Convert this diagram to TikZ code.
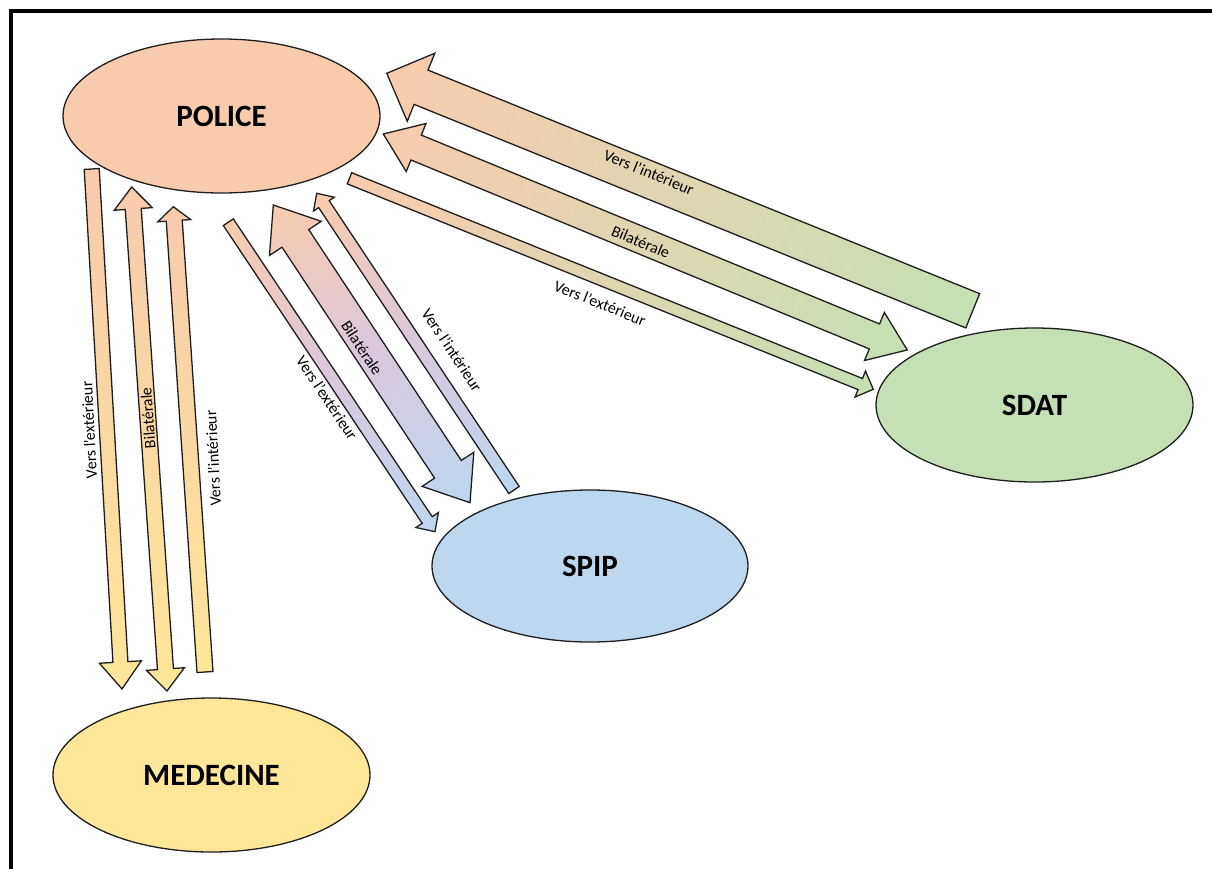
\documentclass[tikz,border=0pt]{standalone}
\usepackage{fontspec}
\setmainfont{Carlito}
\usetikzlibrary{shapes.geometric,calc}
\definecolor{peach}{RGB}{248,203,173}
\definecolor{sgreen}{RGB}{197,224,180}
\definecolor{sblue}{RGB}{189,215,238}
\definecolor{syellow}{RGB}{255,230,153}
\definecolor{slav}{RGB}{218,200,222}
\definecolor{edge}{RGB}{30,30,30}
\tikzset{
  ell/.style={ellipse, draw=edge, line width=1.3pt, minimum width=317pt, minimum height=154pt, inner sep=0pt, font=\fontsize{31}{36}\selectfont\bfseries},
  lbl/.style={font=\fontsize{16}{19}\selectfont, inner sep=0pt, text=black},
  arrowline/.style={draw=edge, line width=1.3pt, line join=miter},
}
% #1 type (s single / d double), #2 from, #3 to (tip), #4 shaft half width, #5 head half width, #6 head length, #7 shading options
\newcommand{\blockarrow}[7]{%
  \path let \p1=(#2), \p2=(#3) in
    \pgfextra{%
      \pgfmathsetmacro{\tmpang}{atan2((\y2)-(\y1),(\x2)-(\x1))}%
      \pgfmathsetmacro{\tmplen}{veclen((\x2)-(\x1),(\y2)-(\y1))}%
      \xdef\BAang{\tmpang}\xdef\BAlen{\tmplen}%
      \xdef\BAx{\x1}\xdef\BAy{\y1}%
    };
  \pgfmathsetmacro{\BAb}{\BAlen-#6}%
  \begin{scope}[transform canvas={shift={(\BAx,\BAy)},rotate=\BAang}, x=1pt, y=1pt]
    \if d#1
      \path[arrowline,#7] (0,0) -- (#6,-#5) -- (#6,-#4) -- (\BAb,-#4) -- (\BAb,-#5) -- (\BAlen,0) -- (\BAb,#5) -- (\BAb,#4) -- (#6,#4) -- (#6,#5) -- cycle;
    \else
      \path[arrowline,#7] (0,-#4) -- (\BAb,-#4) -- (\BAb,-#5) -- (\BAlen,0) -- (\BAb,#5) -- (\BAb,#4) -- (0,#4) -- cycle;
    \fi
  \end{scope}
}
\begin{document}
\begin{tikzpicture}[x=1pt,y=-1pt]
\useasboundingbox (0,0) rectangle (1212,868);
\fill[white] (0,0) rectangle (1212,868);
\draw[line width=4pt] (1212,11) -- (10.5,11) -- (10.5,870);

% ellipses
\node[ell, fill=peach] (police) at (221.5,116) {POLICE};
\node[ell, fill=sgreen] (sdat) at (1034.5,405) {SDAT};
\node[ell, fill=sblue, minimum width=316pt, minimum height=152pt] (spip) at (590,566) {SPIP};
\node[ell, fill=syellow] (med) at (211.5,775) {MEDECINE};

% arrow end points
\coordinate (d0) at (972.7,310.8); \coordinate (d1) at (386.7,73.3);
\coordinate (e0) at (383.3,134);   \coordinate (e1) at (907.3,350);
\coordinate (f0) at (349.5,178.3); \coordinate (f1) at (873.3,389.3);
\coordinate (a0) at (228.3,222.2); \coordinate (a1) at (435,531.7);
\coordinate (b0) at (273.3,205);   \coordinate (b1) at (470,502.7);
\coordinate (c0) at (514,490);     \coordinate (c1) at (316.7,193.3);
\coordinate (m10) at (91.7,169);   \coordinate (m11) at (122,689);
\coordinate (m20) at (131.7,187);  \coordinate (m21) at (167,691);
\coordinate (m30) at (205,672);    \coordinate (m31) at (173.3,206.7);

% SDAT arrows
\blockarrow{s}{d0}{d1}{18.5}{36.7}{37}{left color=sgreen, right color=peach}
\blockarrow{d}{e0}{e1}{13.5}{26}{35.5}{left color=peach, right color=sgreen}
\blockarrow{s}{f0}{f1}{6}{14}{14}{left color=peach, right color=sgreen}
% SPIP arrows
\blockarrow{s}{a0}{a1}{6}{13.5}{14}{left color=peach, right color=sblue, middle color=slav}
\blockarrow{d}{b0}{b1}{16}{31}{40}{left color=peach, right color=sblue, middle color=slav}
\blockarrow{s}{c0}{c1}{6.3}{12.5}{13}{left color=sblue, right color=peach, middle color=slav}
% MEDECINE arrows
\blockarrow{s}{m10}{m11}{7.5}{21}{27}{left color=peach, right color=syellow}
\blockarrow{d}{m20}{m21}{8}{19}{22}{left color=peach, right color=syellow}
\blockarrow{s}{m30}{m31}{8}{16.5}{14}{left color=syellow, right color=peach}

% labels
\node[lbl, rotate=-22.1] (ld) at (649,172.5) {Vers l’intérieur};
\node[lbl, rotate=-22.4] (le) at (640.8,241.7) {Bilatérale};
\node[lbl, rotate=-21.9] (lf) at (600,303) {Vers l’extérieur};
\node[lbl, rotate=-56.8] (lb) at (362,348) {Bilatérale};
\node[lbl, rotate=-56.3] (la) at (327,398) {Vers l’extérieur};
\node[lbl, rotate=-56.4] (lc) at (452,350) {Vers l’intérieur};
\node[lbl, rotate=93] (lm1) at (89,430) {Vers l’extérieur};
\node[lbl, rotate=94] (lm2) at (148,418) {Bilatérale};
\node[lbl, rotate=93] (lm3) at (213,458) {Vers l’intérieur};
\end{tikzpicture}
\end{document}
